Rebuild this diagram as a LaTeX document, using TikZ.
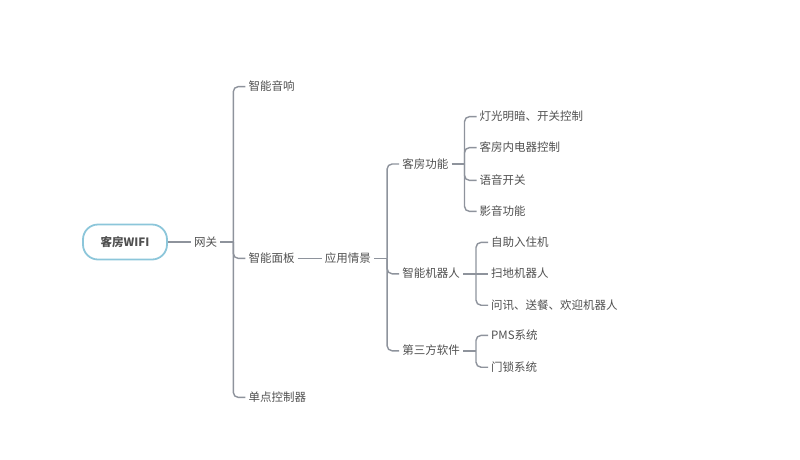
\documentclass[tikz,border=0pt]{standalone}
\usepackage{fontspec}
\setmainfont{Noto Sans CJK SC}
\usepackage{tikz}
\usetikzlibrary{positioning}
\definecolor{linegray}{HTML}{8E939C}
\definecolor{textgray}{HTML}{505050}
\definecolor{rootblue}{HTML}{8CC6DA}
\tikzset{
  item/.style={inner xsep=3pt, inner ysep=0pt, text height=10pt, text depth=2pt,
    text=textgray, font=\fontsize{11.5pt}{14pt}\selectfont},
  branch/.style={draw=linegray, line width=1.4pt},
}

\begin{document}
\begin{tikzpicture}[
  every node/.style={font=\fontsize{11.5pt}{14pt}\selectfont},
  rootbox/.style={draw=rootblue, line width=1.8pt, rounded corners=15pt,
    minimum width=84pt, minimum height=35pt, text=textgray, font=\fontsize{11.5pt}{14pt}\selectfont\bfseries}
]
\useasboundingbox (-125pt,242pt) rectangle (675pt,-217pt);

\node[rootbox] (root) {客房WIFI};
\node[item,right=23pt of root] (gw) {网关};

% first level
\node[item,above right=143pt and 25pt of gw] (spk) {智能音响};
\node[item,below right=4pt and 25pt of gw] (panel) {智能面板};
\node[item,below right=143pt and 25pt of gw] (single) {单点控制器};
\node[item,right=24pt of panel] (scene) {应用情景};

% second level
\node[item,above right=82pt and 25pt of scene] (room) {客房功能};
\node[item,below right=3pt and 25pt of scene] (robot) {智能机器人};
\node[item,below right=80pt and 25pt of scene] (third) {第三方软件};

% third level
\node[item,above right=35pt and 25pt of room] (light) {灯光明暗、开关控制};
\node[item,above right=4pt and 25pt of room] (elec) {客房内电器控制};
\node[item,below right=4pt and 25pt of room] (voice) {语音开关};
\node[item,below right=35pt and 25pt of room] (av) {影音功能};

\node[item,above right=19pt and 25pt of robot] (checkin) {自助入住机};
\node[item,right=25pt of robot] (sweep) {扫地机器人};
\node[item,below right=19pt and 25pt of robot] (serve) {问讯、送餐、欢迎机器人};

\node[item,above right=3pt and 25pt of third] (pms) {PMS系统};
\node[item,below right=4pt and 25pt of third] (lock) {门锁系统};

% connectors
\draw[branch] (root.east) -- (gw.west);
\draw[branch] (panel.east) -- (scene.west);

\draw[branch] (gw.east) -- ++(13pt,0) coordinate (gw-j);
\draw[branch,rounded corners=5pt] (gw-j) |- (spk.west);
\draw[branch,rounded corners=5pt] (gw-j) |- (panel.west);
\draw[branch,rounded corners=5pt] (gw-j) |- (single.west);

\draw[branch] (scene.east) -- ++(13pt,0) coordinate (scene-j);
\draw[branch,rounded corners=5pt] (scene-j) |- (room.west);
\draw[branch,rounded corners=5pt] (scene-j) |- (robot.west);
\draw[branch,rounded corners=5pt] (scene-j) |- (third.west);

\draw[branch] (room.east) -- ++(13pt,0) coordinate (room-j);
\draw[branch,rounded corners=5pt] (room-j) |- (light.west);
\draw[branch,rounded corners=5pt] (room-j) |- (elec.west);
\draw[branch,rounded corners=5pt] (room-j) |- (voice.west);
\draw[branch,rounded corners=5pt] (room-j) |- (av.west);

\draw[branch] (robot.east) -- ++(13pt,0) coordinate (robot-j);
\draw[branch,rounded corners=5pt] (robot-j) |- (checkin.west);
\draw[branch] (robot-j) -- (sweep.west);
\draw[branch,rounded corners=5pt] (robot-j) |- (serve.west);

\draw[branch] (third.east) -- ++(13pt,0) coordinate (third-j);
\draw[branch,rounded corners=5pt] (third-j) |- (pms.west);
\draw[branch,rounded corners=5pt] (third-j) |- (lock.west);

\end{tikzpicture}
\end{document}
